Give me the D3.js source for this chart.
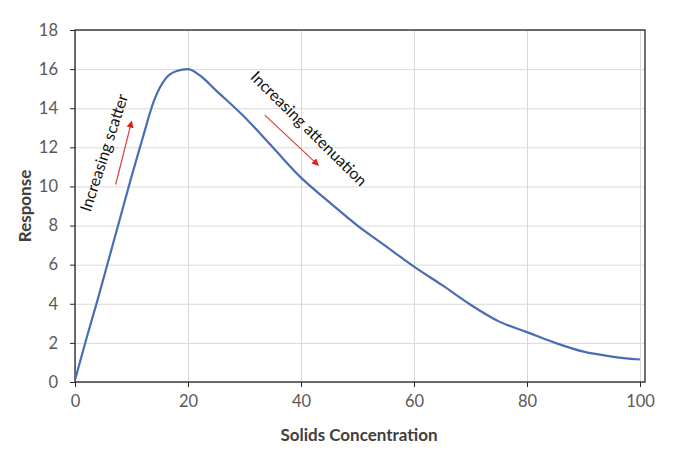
<!DOCTYPE html>
<html>
<head>
<meta charset="utf-8">
<script src="https://cdn.jsdelivr.net/npm/d3@7"></script>
<style>
  body { margin: 0; background: #fff; }
  .grid line { stroke: #d9d9d9; }
  .grid path { display: none; }
  .axis text { fill: #595959; font-family: Lato, "Open Sans", sans-serif; font-size: 16.5px; }
  .axis path, .axis line { stroke: #262626; }
  .title { fill: #404040; font-family: Lato, "Open Sans", sans-serif; font-size: 17px; font-weight: bold; }
  .note { fill: #111; font-family: Lato, "Open Sans", sans-serif; font-size: 16px; }
</style>
</head>
<body>
<script>
// curve
var xValues = [0, 2, 4, 6, 8, 10, 12, 14, 16, 18, 20, 22, 25, 30, 35, 40, 45, 50, 55, 60, 65, 70, 75, 80, 85, 90, 95, 100];
var yValues = [0.1, 2.2, 4.2, 6.3, 8.4, 10.5, 12.5, 14.4, 15.5, 15.9, 16.0, 15.7, 14.9, 13.55, 12.0, 10.45, 9.2, 8.0, 6.95, 5.9, 4.95, 3.95, 3.1, 2.55, 2.0, 1.55, 1.3, 1.15];
var xTicks = [0, 20, 40, 60, 80, 100];
var yTicks = [0, 2, 4, 6, 8, 10, 12, 14, 16, 18];

// annotations, in data units
var notes = [
    { text: "Increasing scatter", x: 5.4, y: 11.7, angle: -72 },
    { text: "Increasing attenuation", x: 41.2, y: 12.9, angle: 44.5 }
];
var arrows = [
    { x1: 7.2, y1: 10.1, x2: 10.0, y2: 13.3 },
    { x1: 33.6, y1: 13.65, x2: 43.0, y2: 11.1 }
];

var width = 690;
var height = 455;
var plotLeft = 75, plotRight = 640, frameRight = 645, plotTop = 30, plotBottom = 382;

var svg = d3.select('body')
    .append("svg")
    .attr("width", width)
    .attr("height", height);

var defs = svg.append("defs");
defs.append("marker")
    .attr("id", "head")
    .attr("viewBox", "0 0 10 10")
    .attr("refX", 8)
    .attr("refY", 5)
    .attr("markerWidth", 6)
    .attr("markerHeight", 6)
    .attr("orient", "auto")
    .append("path")
    .attr("d", "M0,0 L10,5 L0,10 z")
    .attr("fill", "#e0201b");

var xScale = d3.scaleLinear().domain([0, 100]).range([plotLeft, plotRight]);
var yScale = d3.scaleLinear().domain([0, 18]).range([plotBottom, plotTop]);

// gridlines
svg.append("g")
    .attr("class", "grid")
    .attr("transform", "translate(0," + plotBottom + ")")
    .call(d3.axisBottom(xScale).tickValues(xTicks).tickSize(-(plotBottom - plotTop)).tickFormat(""));

svg.append("g")
    .attr("class", "grid")
    .attr("transform", "translate(" + plotLeft + ",0)")
    .call(d3.axisLeft(yScale).tickValues(yTicks).tickSize(-(frameRight - plotLeft)).tickFormat(""));

// frame
svg.append("rect")
    .attr("x", plotLeft)
    .attr("y", plotTop)
    .attr("width", frameRight - plotLeft)
    .attr("height", plotBottom - plotTop)
    .attr("fill", "none")
    .attr("stroke", "#262626")
    .attr("stroke-width", 1.3);

svg.append("g")
    .attr("class", "axis")
    .attr("transform", "translate(0," + plotBottom + ")")
    .call(d3.axisBottom(xScale).tickValues(xTicks).tickSize(5).tickPadding(8).tickSizeOuter(0))
    .call(g => g.select(".domain").remove());

svg.append("g")
    .attr("class", "axis")
    .attr("transform", "translate(" + plotLeft + ",0)")
    .call(d3.axisLeft(yScale).tickValues(yTicks).tickSize(5).tickPadding(12).tickSizeOuter(0))
    .call(g => g.select(".domain").remove());

// curve
var pts = xValues.map((x, i) => [x, yValues[i]]);
var line = d3.line()
    .x(d => xScale(d[0]))
    .y(d => yScale(d[1]))
    .curve(d3.curveMonotoneX);

svg.append("path")
    .datum(pts)
    .attr("d", line)
    .attr("fill", "none")
    .attr("stroke", "#4a6cb5")
    .attr("stroke-width", 2.2);

// arrows + notes
svg.selectAll(".arrow")
    .data(arrows)
    .enter()
    .append("line")
    .attr("class", "arrow")
    .attr("x1", d => xScale(d.x1))
    .attr("y1", d => yScale(d.y1))
    .attr("x2", d => xScale(d.x2))
    .attr("y2", d => yScale(d.y2))
    .attr("stroke", "#d9403a")
    .attr("stroke-width", 1.2)
    .attr("marker-end", "url(#head)");

svg.selectAll(".note")
    .data(notes)
    .enter()
    .append("text")
    .attr("class", "note")
    .attr("text-anchor", "middle")
    .attr("dominant-baseline", "middle")
    .attr("transform", d => "translate(" + xScale(d.x) + "," + yScale(d.y) + ") rotate(" + d.angle + ")")
    .text(d => d.text);

// axis titles
svg.append("text")
    .attr("class", "title")
    .attr("text-anchor", "middle")
    .attr("x", 359)
    .attr("y", 441)
    .text("Solids Concentration");

svg.append("text")
    .attr("class", "title")
    .attr("text-anchor", "middle")
    .attr("transform", "translate(31,206) rotate(-90)")
    .text("Response");
</script>
</body>
</html>
